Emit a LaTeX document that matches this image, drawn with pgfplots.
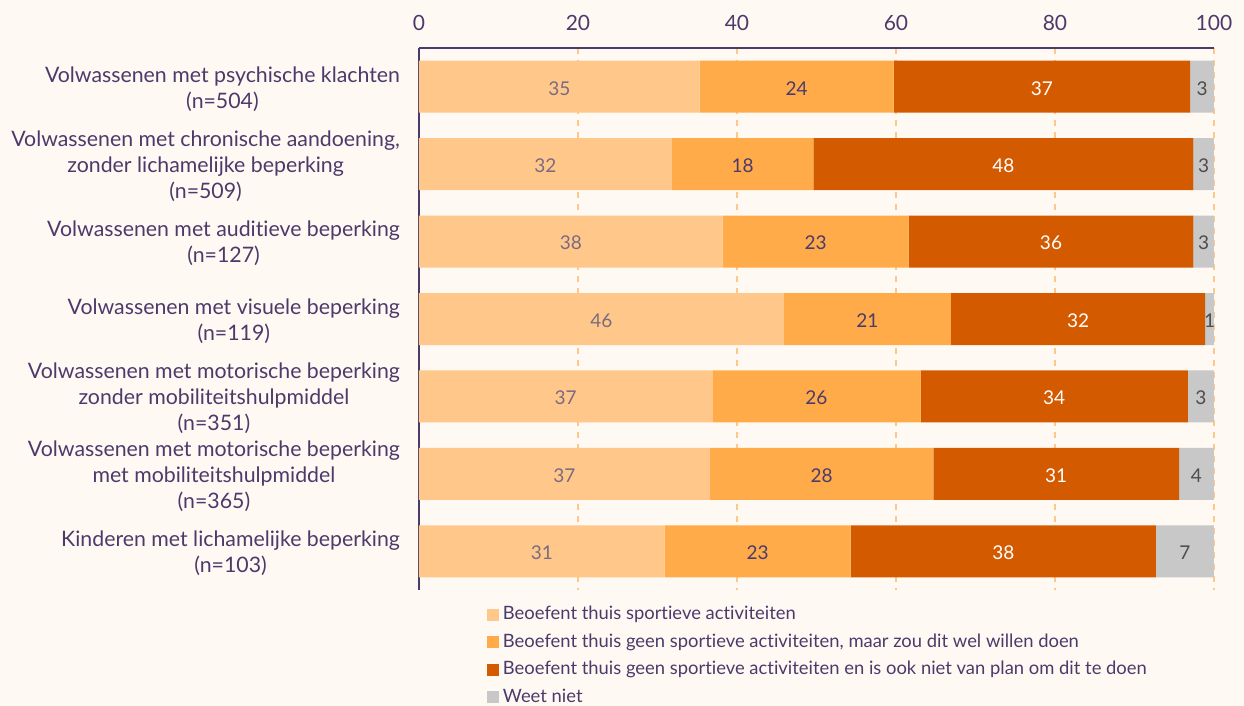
\documentclass[border=0pt]{standalone}
\usepackage{pgfplots}
\pgfplotsset{compat=1.18}
\usepackage{pgfplotstable}
\usepackage{fontspec}
\setmainfont{Lato}[Ligatures=NoCommon]
\definecolor{bg}{HTML}{FFF9F3}
\definecolor{txt}{HTML}{4A3B6B}
\definecolor{cA}{HTML}{FFC88A}
\definecolor{cB}{HTML}{FFAB4A}
\definecolor{cC}{HTML}{D45A00}
\definecolor{cD}{HTML}{C8C8C8}
\definecolor{gridc}{HTML}{FFC88A}
\definecolor{labA}{HTML}{7B6B80}
\definecolor{labD}{HTML}{4D4D4D}
\pgfplotstableread{
y a b c d
0 35.3 24.4 37.3 3.0
1 31.8 17.8 47.8 2.6
2 38.2 23.4 35.8 2.6
3 45.9 21.0 32.0 1.1
4 36.9 26.2 33.6 3.3
5 36.6 28.1 30.9 4.4
6 30.9 23.4 38.4 7.3
}\data
\begin{document}
\begin{tikzpicture}
\fill[bg] (-209.5pt,-58pt) rectangle (412.5pt,295pt);
\path[use as bounding box] (-209.5pt,-58pt) rectangle (412.5pt,295pt);
\begin{axis}[
  scale only axis,
  width=397.5pt, height=271pt,
  xbar stacked,
  bar width=26pt,
  xmin=0, xmax=100,
  ymin=-0.5, ymax=6.5,
  y dir=reverse,
  axis x line*=top,
  axis y line*=left,
  axis line style={txt, line width=0.8pt, -},
  xtick={0,20,40,60,80,100},
  ytick={0,1,2,3,4,5,6},
  yticklabels={
    {Volwassenen met psychische klachten\\(n=504)},
    {Volwassenen met chronische aandoening,\\zonder lichamelijke beperking\\(n=509)},
    {Volwassenen met auditieve beperking\\(n=127)},
    {Volwassenen met visuele beperking\\(n=119)},
    {Volwassenen met motorische beperking\\zonder mobiliteitshulpmiddel\\(n=351)},
    {Volwassenen met motorische beperking\\met mobiliteitshulpmiddel\\(n=365)},
    {Kinderen met lichamelijke beperking\\(n=103)}},
  major tick length=0pt,
  /pgf/number format/assume math mode=true,
  xticklabel style={font=\fontsize{10.5}{12}\selectfont, text=txt, yshift=5pt},
  yticklabel style={align=center, font=\fontsize{10.65}{13}\selectfont, text=txt, xshift=-6pt, yshift=-1pt},
  xmajorgrids,
  major grid style={gridc, dashed, line width=0.6pt},
  visualization depends on=rawx \as \myval,
  nodes near coords={\pgfmathprintnumber[fixed,precision=0]{\myval}},
  every node near coord/.style={anchor=center, yshift=-0.8pt, font=\fontsize{9.5}{11}\selectfont},
  legend style={at={(0.085,-0.022)}, anchor=north west, draw=none, fill=none,
    font=\fontsize{9.2}{11}\selectfont, text=txt, row sep=1.5pt, inner sep=0pt,
    /tikz/every even column/.append style={column sep=2pt}},
  legend cell align=left,
  legend image code/.code={\fill[#1] (0pt,-3pt) rectangle (6pt,3pt);},
]
\addplot[fill=cA, draw=none,
  every node near coord/.append style={text=labA}] table[x=a, y=y] {\data};
\addplot[fill=cB, draw=none,
  every node near coord/.append style={text=txt}] table[x=b, y=y] {\data};
\addplot[fill=cC, draw=none,
  every node near coord/.append style={text=white}] table[x=c, y=y] {\data};
\addplot[fill=cD, draw=none,
  every node near coord/.append style={text=labD}] table[x=d, y=y] {\data};
\legend{Beoefent thuis sportieve activiteiten,
  {Beoefent thuis geen sportieve activiteiten, maar zou dit wel willen doen},
  Beoefent thuis geen sportieve activiteiten en is ook niet van plan om dit te doen,
  Weet niet}
\end{axis}
\end{tikzpicture}
\end{document}
